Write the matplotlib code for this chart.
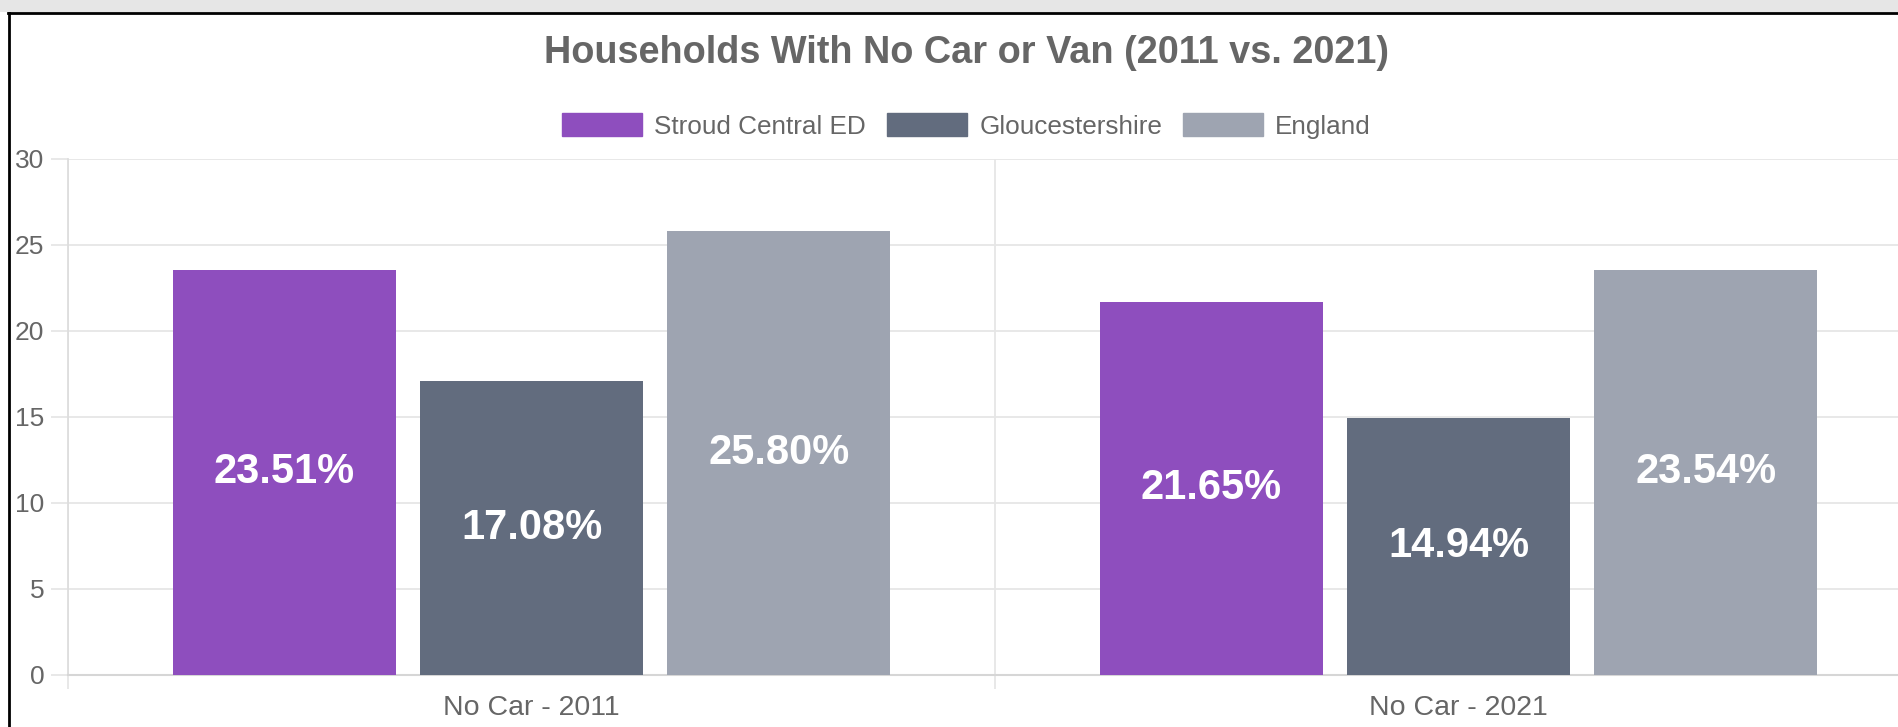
import matplotlib
matplotlib.use("Agg")
import matplotlib.pyplot as plt
from matplotlib.patches import Rectangle, Patch
from matplotlib.lines import Line2D
import numpy as np

plt.rcParams['font.family'] = ['Liberation Sans', 'DejaVu Sans']

categories = ["No Car - 2011", "No Car - 2021"]
series_names = ["Stroud Central ED", "Gloucestershire", "England"]
stroud = [23.51, 21.65]
glos = [17.08, 14.94]
england = [25.80, 23.54]
colors = ["#8E4EBE", "#626C7E", "#9EA4B1"]
title = "Households With No Car or Van (2011 vs. 2021)"

W, H = 1898, 727
fig = plt.figure(figsize=(W / 100, H / 100), dpi=100)
fig.patch.set_facecolor("white")

# axes placement (pixels)
x0, x_end, y_top, y_zero = 68, 1922, 158.5, 674.5
ax = fig.add_axes([x0 / W, (H - y_zero) / H, (x_end - x0) / W, (y_zero - y_top) / H])
ax.set_facecolor("none")

series = [stroud, glos, england]
n = len(series)
slot = 0.8 / n
bw = slot * 0.9
x = np.arange(len(categories))
for i, (vals, c) in enumerate(zip(series, colors)):
    off = (i - (n - 1) / 2) * slot
    ax.bar(x + off, vals, width=bw, color=c, zorder=3)
    for xi, v in zip(x + off, vals):
        ax.text(xi, v / 2, f"{v:.2f}%", ha="center", va="center", color="white",
                fontsize=30, fontweight="bold", zorder=4)

ax.set_xlim(-0.5, len(categories) - 0.5)
ax.set_ylim(0, 30)
ax.set_yticks(np.arange(0, 31, 5))
ax.set_xticks(x)
ax.set_xticklabels(categories)
ax.set_xticks(np.arange(-0.5, len(categories), 1.0), minor=True)

grid_c = "#e6e6e6"
ax.grid(axis="y", color=grid_c, linewidth=1.3, zorder=0)
ax.grid(axis="x", which="minor", color=grid_c, linewidth=1.3, zorder=0)
ax.grid(axis="x", which="major", visible=False)

ax.tick_params(axis="y", length=12, width=1.3, color=grid_c, labelsize=19,
               labelcolor="#666666", pad=5)
ax.tick_params(axis="x", which="major", length=0, labelsize=20.5,
               labelcolor="#666666", pad=15)
ax.tick_params(axis="x", which="minor", length=10, width=1.3, color=grid_c)

for s in ["top", "right"]:
    ax.spines[s].set_visible(False)
ax.spines["left"].set_color("#dddddd")
ax.spines["left"].set_linewidth(1.3)
ax.spines["bottom"].set_color("#d6d6d6")
ax.spines["bottom"].set_linewidth(1.5)

# title
fig.text(966 / W, 1 - 53 / H, title, ha="center", va="center", fontsize=27.3,
         fontweight="bold", color="#666666")

# legend
handles = [Patch(facecolor=c, edgecolor=c) for c in colors]
fig.legend(handles, series_names, loc="center", bbox_to_anchor=(966.5 / W, 1 - 126 / H),
           ncol=3, frameon=False, fontsize=18.8, labelcolor="#666666",
           handlelength=3.07, handleheight=0.95, handletextpad=0.46, columnspacing=0.8,
           borderpad=0, borderaxespad=0)

# page frame: grey band at top and black border
fig.patches.append(Rectangle((0, 1 - 12 / H), 1, 12 / H, transform=fig.transFigure,
                             facecolor="#e6e6e6", edgecolor="none", zorder=-1))
fig.lines.append(Line2D([8 / W, 1], [1 - 13 / H, 1 - 13 / H], transform=fig.transFigure,
                        color="black", linewidth=2))
fig.lines.append(Line2D([8.5 / W, 8.5 / W], [0, 1 - 13 / H], transform=fig.transFigure,
                        color="black", linewidth=2))

fig.savefig("out.png", dpi=100, facecolor="white")
